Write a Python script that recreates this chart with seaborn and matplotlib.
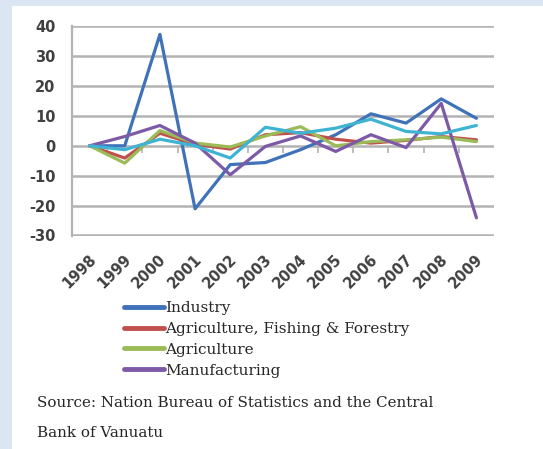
import pandas as pd
import seaborn as sns
import matplotlib.pyplot as plt
import matplotlib.transforms as mtransforms
from matplotlib.patches import Rectangle

# data (annual % change)
years = ['1998', '1999', '2000', '2001', '2002', '2003', '2004', '2005', '2006', '2007', '2008', '2009']
industry = [0, 0, 37.3, -21.1, -6.3, -5.6, -1.3, 3.7, 10.7, 7.6, 15.7, 9.2]
agri_fish_forest = [0, -4.1, 4.2, 0.5, -1.1, 3.7, 4.4, 2.2, 0.9, 1.8, 3.1, 2.0]
agriculture = [0, -5.8, 5.1, 0.9, -0.4, 3.3, 6.4, 0.0, 1.4, 2.0, 2.9, 1.4]
manufacturing = [0, 3.1, 6.8, 0.9, -9.7, -0.2, 3.3, -1.9, 3.7, -0.6, 14.2, -24.1]
unlabelled = [0, -1.3, 2.2, 0.0, -4.1, 6.2, 4.2, 5.9, 8.9, 4.8, 4.0, 6.8]

series_names = ['Industry', 'Agriculture, Fishing & Forestry', 'Agriculture',
                'Manufacturing', 'Other']
series_vals = [industry, agri_fish_forest, agriculture, manufacturing, unlabelled]
colors = ['#3f72b8', '#c0504d', '#9bbb59', '#7d5aa6', '#3fb3d2']

df = pd.concat([pd.DataFrame({'year': years, 'value': v, 'series': n})
                for n, v in zip(series_names, series_vals)], ignore_index=True)

sns.set_style('white')
plt.rcParams['axes.unicode_minus'] = False
grey = '#b3b3b3'
txt = '#262626'

fig = plt.figure(figsize=(5.43, 4.49), dpi=100)
fig.patch.set_facecolor('#dce6f2')
fig.patches.append(Rectangle((12 / 543, 0), 1, 1 - 6 / 449, transform=fig.transFigure,
                             facecolor='white', edgecolor='none', zorder=-5))

ax = fig.add_axes([72 / 543, 1 - 236 / 449, (494 - 72) / 543, (236 - 26) / 449])
ax.set_facecolor('none')

sns.lineplot(data=df, x='year', y='value', hue='series', hue_order=series_names,
             palette=colors, linewidth=2.3, sort=False, ax=ax, legend=False)

ax.set_xlim(-0.5, 11.5)
ax.set_ylim(-30.2, 40.1)
ax.set_yticks(range(-30, 41, 10))
ax.set_xticks(range(len(years)))
ax.set_xticklabels(years, rotation=45, ha='right', va='center', rotation_mode='anchor')
ax.set_xlabel('')
ax.set_ylabel('')

ax.yaxis.grid(True, color=grey, linewidth=1.8)
ax.set_axisbelow(True)
for s in ['top', 'right', 'bottom']:
    ax.spines[s].set_visible(False)
ax.spines['left'].set_color(grey)
ax.spines['left'].set_linewidth(1.6)
ax.tick_params(axis='y', length=5, width=1.6, color=grey, labelsize=10.5,
               labelcolor='#404040', pad=7)
ax.tick_params(axis='x', length=0, labelsize=10.5, labelcolor='#404040', pad=15)
shift = mtransforms.ScaledTranslation(3 / 72, 0, fig.dpi_scale_trans)
for lab in ax.get_xticklabels():
    lab.set_transform(lab.get_transform() + shift)
for lab in ax.get_yticklabels() + ax.get_xticklabels():
    lab.set_fontweight('bold')

# category axis crossing at zero with ticks between the years
zax = ax.secondary_xaxis(30.2 / 70.3)
zax.set_xticks([i + 0.5 for i in range(len(years) - 1)])
zax.tick_params(length=5, width=1.2, color=grey, labelbottom=False, direction='out')
zax.spines['bottom'].set_visible(False)

handles = [plt.Line2D([], [], color=c, linewidth=3.5) for c in colors[:4]]
fig.legend(handles, series_names[:4], loc='upper left',
           bbox_to_anchor=(124 / 543, 1 - 301 / 449), frameon=False,
           handlelength=2.6, handletextpad=0.1, labelspacing=0.45,
           prop={'family': 'DejaVu Serif', 'size': 11}, labelcolor=txt,
           borderpad=0, borderaxespad=0)

fig.text(37 / 543, 1 - 403 / 449, 'Source: Nation Bureau of Statistics and the Central',
         family='DejaVu Serif', size=10.9, color=txt, va='center')
fig.text(37 / 543, 1 - 433 / 449, 'Bank of Vanuatu',
         family='DejaVu Serif', size=10.9, color=txt, va='center')

fig.savefig('out.png', dpi=100, facecolor=fig.get_facecolor())
